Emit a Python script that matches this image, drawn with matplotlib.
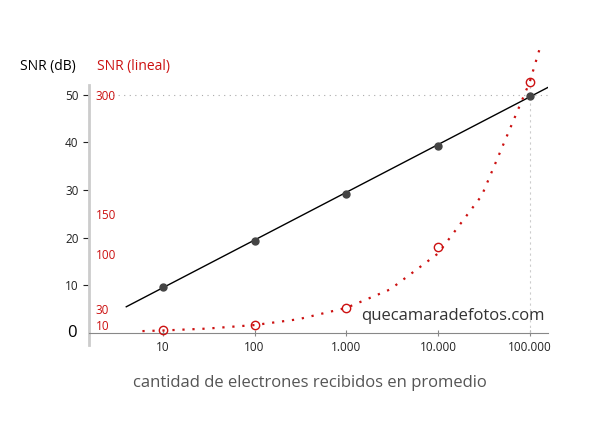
import matplotlib
matplotlib.use("Agg")
import matplotlib.pyplot as plt

electrons = [10, 100, 1000, 10000, 100000]
snr_db = [9.7, 19.2, 29.2, 39.2, 49.7]
snr_lin = [3.16, 10, 31.6, 108, 316]
fit_x = [4, 158000]
fit_db = [5.5, 51.5]
curve_x = [6, 10, 30, 100, 300, 1000, 3000, 10000, 30000, 100000, 130000]
curve_lin = [2.4, 3.16, 5.5, 10, 17.3, 31.6, 54.8, 100, 173, 316, 360]
xticks = [10, 100, 1000, 10000, 100000]
xticklabels = ["10", "100", "1.000", "10.000", "100.000"]
db_ticks = [10, 20, 30, 40, 50]
lin_ticks = [10, 30, 100, 150, 300]

plt.rcParams['font.family'] = ['Open Sans', 'DejaVu Sans']
fig = plt.figure(figsize=(6, 4.4), dpi=100)
ax = fig.add_axes([89/600, 1-333/440, (548-89)/600, (333-85)/440])
ax.set_xscale('log')
ax.set_xlim(1.57, 158000)
ax.set_ylim(0, 52)
red = '#cc1111'
ax.axhline(50, color='#aaaaaa', ls=(0, (1, 4)), lw=0.8, xmin=0.04)
ax.axvline(100000, color='#cccccc', ls=(0, (2, 3)), lw=0.8)
ax.plot(fit_x, fit_db, color='black', lw=1)
ax.plot(electrons, snr_db, 'o', color='#444444', ms=5)
ax2 = ax.twinx()
ax2.set_ylim(0, 52*6)
ax2.plot(curve_x, curve_lin, color=red, ls=(0, (1, 3.5)), lw=1.6, clip_on=False)
ax2.plot(electrons, snr_lin, 'o', mfc='none', mec=red, ms=6, mew=1, clip_on=False)
ax2.yaxis.tick_left()
ax2.set_yticks(lin_ticks)
ax2.tick_params(axis='y', length=0, pad=-5, labelsize=8.5, labelcolor=red)
for t in ax2.get_yticklabels():
    t.set_horizontalalignment('left')
for s in ax2.spines.values():
    s.set_visible(False)

ax.set_xticks(xticks)
ax.set_xticklabels(xticklabels)
ax.minorticks_off()
ax.set_yticks(db_ticks)
ax.tick_params(axis='y', length=4, labelsize=8.5, colors='#222222')
ax.tick_params(axis='x', length=5, labelsize=8.5, colors='#222222', color='#888888', direction='inout')
for s in ['top', 'right']:
    ax.spines[s].set_visible(False)
ax.spines['left'].set_color('#cccccc')
ax.spines['left'].set_linewidth(2)
ax.spines['left'].set_bounds(-2.5, 52)
ax.spines['bottom'].set_color('#888888')
ax.spines['left'].set_clip_on(False)

fig.text(72/600, 1-333/440, "0", fontsize=12, ha='center', va='center')
fig.text(20/600, 1-70/440, "SNR (dB)", fontsize=10)
fig.text(97/600, 1-70/440, "SNR (lineal)", fontsize=10, color=red)
fig.text(545/600, 1-316/440, "quecamaradefotos.com", fontsize=12, ha='right', va='center', color='#333333')
fig.text(310/600, 1-383/440, "cantidad de electrones recibidos en promedio", fontsize=12, ha='center', va='center', color='#555555')
fig.savefig("out.png")
